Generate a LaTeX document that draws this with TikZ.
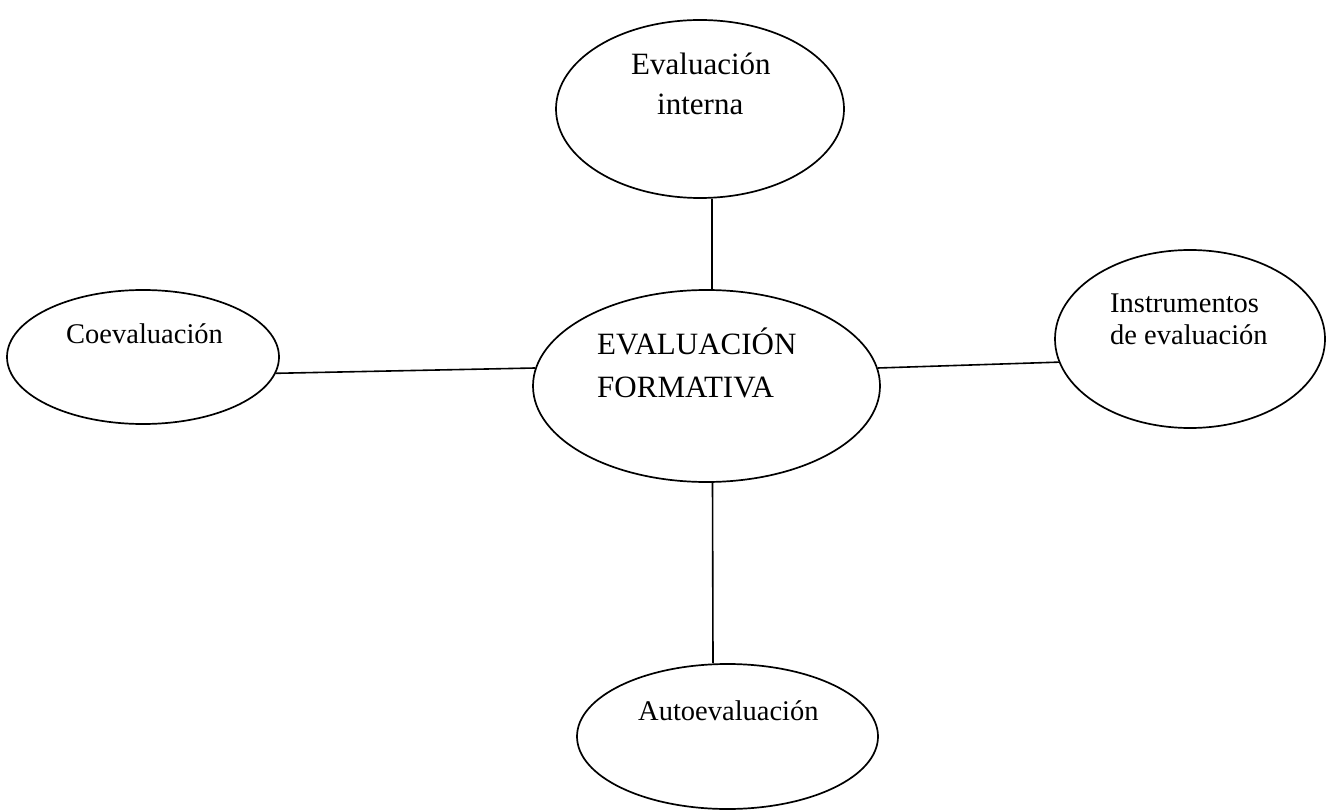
\documentclass[tikz,border=0pt]{standalone}
\usepackage{fontspec}
\setmainfont{Liberation Serif}
\usetikzlibrary{shapes.geometric}
\begin{document}
\begin{tikzpicture}[x=1pt,y=-1pt,
  oval/.style={draw,ellipse,line width=1.7pt,inner sep=0pt},
  big/.style={font=\fontsize{31}{36}\selectfont,inner sep=0pt,anchor=base west},
  small/.style={font=\fontsize{28.5}{34}\selectfont,inner sep=0pt,anchor=base west},
  link/.style={line width=1.6pt}]
\useasboundingbox (0,0) rectangle (1327,810);
\node[oval,minimum width=288pt,minimum height=178pt] (top) at (700,109) {};
\node[oval,minimum width=347pt,minimum height=192pt] (mid) at (706.5,386) {};
\node[oval,minimum width=272pt,minimum height=134pt] (left) at (143,357) {};
\node[oval,minimum width=270pt,minimum height=178pt] (right) at (1190,339) {};
\node[oval,minimum width=301pt,minimum height=145pt] (bot) at (727.5,736.5) {};
\node[big] (t1) at (631,75) {Evaluación};
\node[big] (t2) at (657,115) {interna};
\node[big] (m1) at (597,354) {EVALUACIÓN};
\node[big] (m2) at (597,397) {FORMATIVA};
\node[small] (l1) at (66,343) {Coevaluación};
\node[small] (r1) at (1110,312) {Instrumentos};
\node[small] (r2) at (1110,344) {de evaluación};
\node[small] (b1) at (638,720) {Autoevaluación};
\draw[link] ([xshift=12pt]top.south) -- ([xshift=5.5pt]mid.north);
\draw[link] ([xshift=6pt]mid.south) -- ([xshift=-14.5pt]bot.north);
\draw[link] (left.-7) -- (mid.174);
\draw[link] (mid.6) -- (right.190.5);
\end{tikzpicture}
\end{document}
